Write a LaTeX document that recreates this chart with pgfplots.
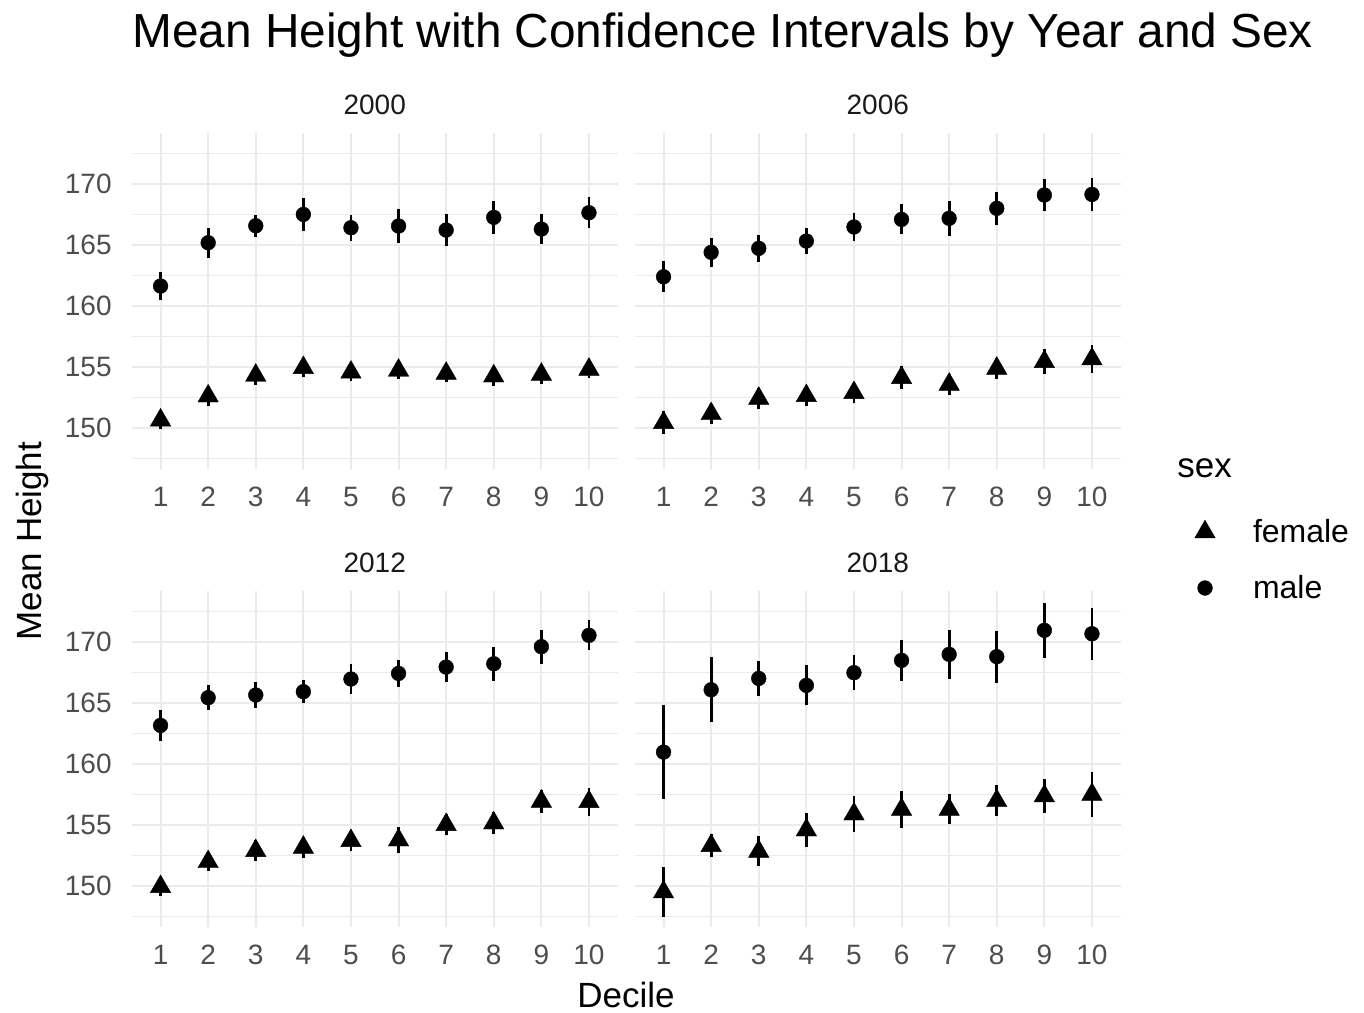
\documentclass[border=0pt]{standalone}
\usepackage{fontspec}
\setmainfont{Liberation Sans}
\usepackage{pgfplots}
\usepackage{pgfplotstable}
\pgfplotsset{compat=1.18}

\definecolor{tickgray}{HTML}{4D4D4D}
\definecolor{stripgray}{HTML}{1A1A1A}
\definecolor{gridgray}{HTML}{EBEBEB}

% decile, mean height, half width of the CI
\pgfplotstableread{
x y e
1 161.64 0.95
2 165.19 1.00
3 166.58 0.65
4 167.51 1.10
5 166.42 0.85
6 166.56 1.20
7 166.23 1.05
8 167.27 1.10
9 166.31 1.00
10 167.65 1.05
}\mA
\pgfplotstableread{
x y e
1 150.65 0.50
2 152.62 0.60
3 154.32 0.55
4 154.95 0.50
5 154.57 0.50
6 154.73 0.45
7 154.48 0.45
8 154.26 0.55
9 154.40 0.55
10 154.81 0.50
}\fA
\pgfplotstableread{
x y e
1 162.40 1.05
2 164.40 0.95
3 164.73 0.90
4 165.33 0.85
5 166.48 0.90
6 167.10 1.00
7 167.19 1.20
8 168.01 1.10
9 169.10 1.10
10 169.15 1.15
}\mB
\pgfplotstableread{
x y e
1 150.44 0.70
2 151.17 0.60
3 152.43 0.65
4 152.65 0.60
5 152.90 0.60
6 154.13 0.70
7 153.58 0.60
8 154.89 0.60
9 155.44 0.80
10 155.66 0.90
}\fB
\pgfplotstableread{
x y e
1 163.17 1.05
2 165.44 0.80
3 165.66 0.80
4 165.93 0.70
5 166.97 1.00
6 167.43 0.90
7 167.95 1.00
8 168.22 1.15
9 169.62 1.15
10 170.55 1.00
}\mC
\pgfplotstableread{
x y e
1 149.95 0.50
2 151.99 0.50
3 152.90 0.65
4 153.17 0.65
5 153.72 0.60
6 153.77 0.85
7 155.03 0.65
8 155.16 0.70
9 156.94 0.70
10 156.91 0.90
}\fC
\pgfplotstableread{
x y e
1 160.98 3.60
2 166.09 2.45
3 167.02 1.20
4 166.45 1.40
5 167.49 1.20
6 168.50 1.45
7 168.99 1.80
8 168.80 1.90
9 170.96 2.00
10 170.68 1.90
}\mD
\pgfplotstableread{
x y e
1 149.51 1.80
2 153.31 0.70
3 152.84 1.00
4 154.59 1.15
5 155.90 1.25
6 156.28 1.25
7 156.28 1.00
8 156.99 1.05
9 157.38 1.15
10 157.51 1.60
}\fD

\pgfplotsset{
  panel/.style={
    scale only axis, width=242.75pt, height=167.8pt,
    anchor=south west,
    xmin=0.4, xmax=10.6, ymin=146.65, ymax=174.15,
    xtick={1,...,10}, ytick={150,155,...,170},
    minor ytick={147.5,152.5,...,172.5},
    grid=both,
    major grid style={gridgray, line width=1pt},
    minor grid style={gridgray, line width=0.6pt},
    axis line style={draw=none},
    major tick length=0pt, minor tick length=0pt,
    /pgf/number format/assume math mode=true,
    tick label style={font=\fontsize{14}{16}\selectfont, text=tickgray, inner sep=0pt},
    xticklabel style={yshift=-9pt},
    yticklabel style={xshift=-10pt},
    title style={at={(0.5,1)}, anchor=south, inner sep=0pt, yshift=3pt,
      font=\fontsize{14}{16}\selectfont, text=stripgray},
    legend image code/.code={
      \path[draw=none, fill=none] (-6pt,-6pt) rectangle (6pt,6pt);
      \draw[##1] plot coordinates {(0pt,0pt)};},
  },
  fem/.style={black, only marks, mark=triangle*, mark size=5.9pt,
    mark options={line width=0.2pt},
    error bars/.cd, y dir=both, y explicit, error mark=-,
    error bar style={line width=1.4pt},
    error mark options={line width=1.4pt, mark size=1.4pt}},
  mal/.style={black, only marks, mark=*, mark size=3.7pt,
    mark options={line width=0.2pt},
    error bars/.cd, y dir=both, y explicit, error mark=-,
    error bar style={line width=1.4pt},
    error mark options={line width=1.4pt, mark size=1.4pt}},
}

\begin{document}
\begin{tikzpicture}
\useasboundingbox (0,0) rectangle (682pt,506pt);

\begin{axis}[panel, at={(66pt,271.5pt)}, title={2000}]
\addplot[fem] table[x=x, y=y, y error=e] {\fA};
\addplot[mal] table[x=x, y=y, y error=e] {\mA};
\end{axis}

\begin{axis}[panel, at={(317.5pt,271.5pt)}, title={2006}, yticklabels={},
  legend style={draw=none, fill=none, inner sep=0pt, outer sep=0pt,
    at={(1.1493,-0.152)}, anchor=north west,
    font=\fontsize{16}{18}\selectfont,
    nodes={inner sep=0pt, text height=10pt, text depth=0pt},
    column sep=18pt, row sep=16pt},
  legend cell align=left]
\addplot[fem] table[x=x, y=y, y error=e] {\fB};
\addplot[mal] table[x=x, y=y, y error=e] {\mB};
\legend{female, male}
\end{axis}

\begin{axis}[panel, at={(66pt,42.5pt)}, title={2012}]
\addplot[fem] table[x=x, y=y, y error=e] {\fC};
\addplot[mal] table[x=x, y=y, y error=e] {\mC};
\end{axis}

\begin{axis}[panel, at={(317.5pt,42.5pt)}, title={2018}, yticklabels={}]
\addplot[fem] table[x=x, y=y, y error=e] {\fD};
\addplot[mal] table[x=x, y=y, y error=e] {\mD};
\end{axis}

\node[anchor=base west, font=\fontsize{23.9}{28}\selectfont, inner sep=0pt]
  at (66pt,482pt) {Mean Height with Confidence Intervals by Year and Sex};
\node[anchor=base, font=\fontsize{17.5}{20}\selectfont, inner sep=0pt]
  at (313pt,2.5pt) {Decile};
\node[anchor=base, rotate=90, font=\fontsize{17.5}{20}\selectfont, inner sep=0pt]
  at (20.85pt,235.5pt) {Mean Height};
\node[anchor=base west, font=\fontsize{17.5}{20}\selectfont, inner sep=0pt]
  at (588.5pt,267pt) {sex};
\end{tikzpicture}
\end{document}
